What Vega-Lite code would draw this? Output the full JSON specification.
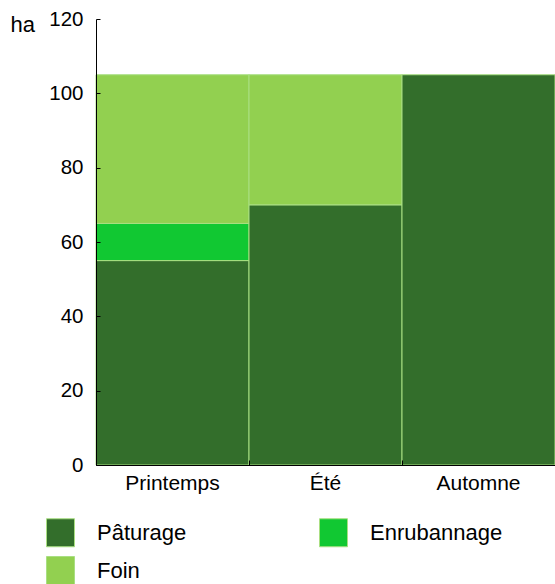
{
  "$schema": "https://vega.github.io/schema/vega-lite/v6.json",
  "width": 459,
  "height": 446,
  "autosize": {"type": "none"},
  "padding": {"left": 96, "top": 19, "right": 0, "bottom": 119},
  "background": "white",
  "config": {
    "view": {"stroke": null},
    "font": "Liberation Sans"
  },
  "data": {
    "values": [
      {"saison": "Printemps", "usage": "Pâturage", "ordre": 1, "ha": 55},
      {"saison": "Printemps", "usage": "Enrubannage", "ordre": 2, "ha": 10},
      {"saison": "Printemps", "usage": "Foin", "ordre": 3, "ha": 40},
      {"saison": "Été", "usage": "Pâturage", "ordre": 1, "ha": 70},
      {"saison": "Été", "usage": "Foin", "ordre": 3, "ha": 35},
      {"saison": "Automne", "usage": "Pâturage", "ordre": 1, "ha": 105}
    ]
  },
  "mark": {"type": "bar", "stroke": "#a9df82", "strokeWidth": 1},
  "encoding": {
    "x": {
      "field": "saison",
      "type": "nominal",
      "sort": ["Printemps", "Été", "Automne"],
      "scale": {"paddingInner": 0, "paddingOuter": 0},
      "axis": {
        "title": null,
        "labelAngle": 0,
        "labelFontSize": 21,
        "labelColor": "#000",
        "labelPadding": 12,
        "domainColor": "#000",
        "tickColor": "#000",
        "tickSize": -5,
        "bandPosition": 0,
        "zindex": 1
      }
    },
    "y": {
      "field": "ha",
      "type": "quantitative",
      "stack": "zero",
      "scale": {"domain": [0, 120], "nice": false},
      "axis": {
        "values": [0, 20, 40, 60, 80, 100, 120],
        "grid": false,
        "title": "ha",
        "titleAngle": 0,
        "titleAlign": "left",
        "titleBaseline": "alphabetic",
        "titleX": -86,
        "titleY": 12,
        "titleFontSize": 22,
        "titleFontWeight": "normal",
        "titleColor": "#000",
        "labelFontSize": 20.5,
        "labelColor": "#000",
        "labelPadding": 17,
        "domainColor": "#000",
        "tickColor": "#000",
        "tickSize": -4,
        "zindex": 1
      }
    },
    "color": {
      "field": "usage",
      "type": "nominal",
      "sort": ["Pâturage", "Enrubannage", "Foin"],
      "scale": {
        "domain": ["Pâturage", "Enrubannage", "Foin"],
        "range": ["#336e2b", "#11c832", "#92d050"]
      },
      "legend": {
        "title": null,
        "orient": "none",
        "legendX": -50,
        "legendY": 499,
        "direction": "horizontal",
        "columns": 2,
        "columnPadding": 130,
        "rowPadding": 5,
        "symbolType": "square",
        "symbolSize": 784,
        "symbolStrokeWidth": 1,
        "labelFontSize": 22,
        "labelColor": "#000",
        "labelOffset": 22,
        "labelLimit": 300,
        "encode": {
          "symbols": {
            "update": {
              "stroke": {"signal": "datum.value == 'Pâturage' ? '#1d4a18' : datum.value == 'Enrubannage' ? '#0b8a22' : '#5f8f35'"}
            }
          },
          "labels": {
            "enter": {
              "dx": {"signal": "datum.label == 'Enrubannage' ? -9 : 0"}
            },
            "update": {
              "dx": {"signal": "datum.label == 'Enrubannage' ? -9 : 0"}
            }
          }
        }
      }
    },
    "order": {"field": "ordre", "type": "quantitative"}
  }
}
